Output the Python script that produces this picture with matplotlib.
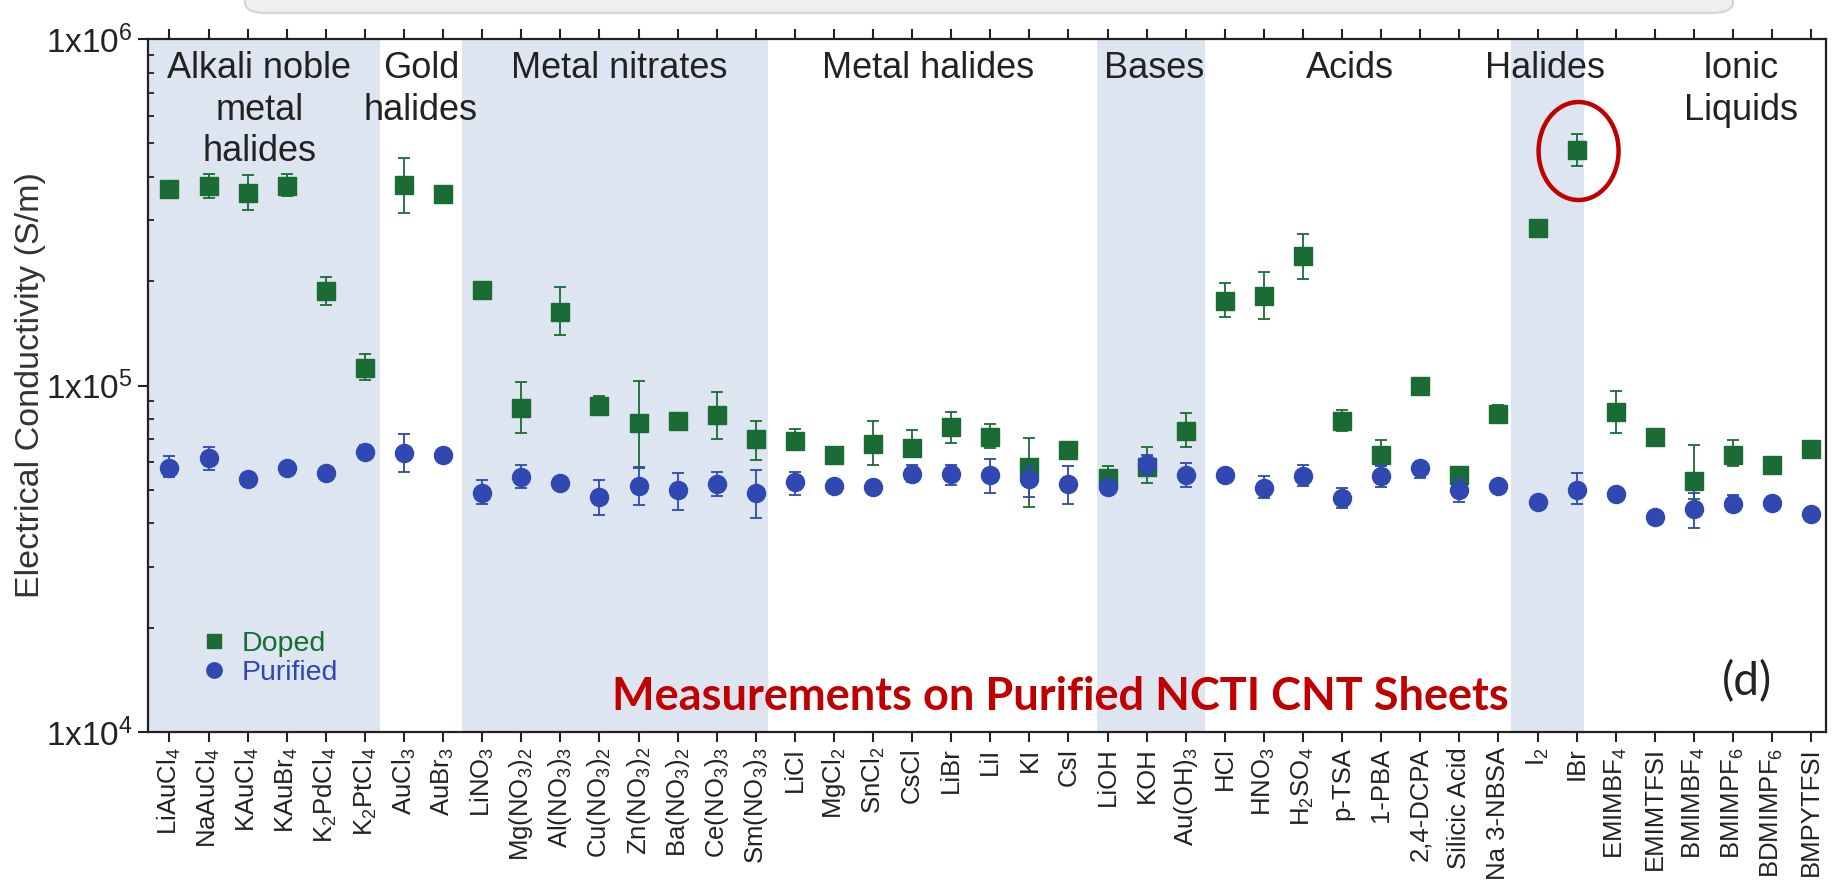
import matplotlib
matplotlib.use("Agg")
import matplotlib.pyplot as plt
import matplotlib.transforms as mtransforms
from matplotlib.patches import Ellipse, FancyBboxPatch
from matplotlib.ticker import LogLocator, NullFormatter, FixedLocator, FixedFormatter
import numpy as np

plt.rcParams['font.family'] = ['Liberation Sans', 'DejaVu Sans']
plt.rcParams['mathtext.fontset'] = 'custom'
plt.rcParams['mathtext.rm'] = 'Liberation Sans'
plt.rcParams['mathtext.it'] = 'Liberation Sans:italic'
plt.rcParams['mathtext.bf'] = 'Liberation Sans:bold'

# ---------------- data ----------------
compounds = ['LiAuCl$_4$', 'NaAuCl$_4$', 'KAuCl$_4$', 'KAuBr$_4$', 'K$_2$PdCl$_4$', 'K$_2$PtCl$_4$',
             'AuCl$_3$', 'AuBr$_3$', 'LiNO$_3$', 'Mg(NO$_3$)$_2$', 'Al(NO$_3$)$_3$', 'Cu(NO$_3$)$_2$',
             'Zn(NO$_3$)$_2$', 'Ba(NO$_3$)$_2$', 'Ce(NO$_3$)$_3$', 'Sm(NO$_3$)$_3$', 'LiCl', 'MgCl$_2$',
             'SnCl$_2$', 'CsCl', 'LiBr', 'LiI', 'KI', 'CsI', 'LiOH', 'KOH', 'Au(OH)$_3$', 'HCl',
             'HNO$_3$', 'H$_2$SO$_4$', 'p-TSA', '1-PBA', '2,4-DCPA', 'Silicic Acid', 'Na 3-NBSA',
             'I$_2$', 'IBr', 'EMIMBF$_4$', 'EMIMTFSI', 'BMIMBF$_4$', 'BMIMPF$_6$', 'BDMIMPF$_6$', 'BMPYTFSI']

# conductivity in S/m (x1000)
doped = [370, 377, 360, 377, 188, 112, 379, 357, 189, 86, 163, 87, 78, 79, 82, 70, 69, 63, 68, 66,
         76, 71, 58, 65, 54, 58, 74, 175, 181, 236, 79, 63, 100, 55, 83, 284, 478, 84, 71, 53, 63, 59, 65.5]
doped_hi = [380, 409, 405, 407, 206, 123, 453, 365, 195, 102.5, 192, 93, 103, 81, 96, 79, 75, 64, 79, 74.5,
            84, 77.3, 70.4, 66.5, 58.6, 66.5, 83.2, 198, 212, 273, 85, 69.6, 102, 57, 88, 290, 532, 96.5, 72.5,
            67.3, 69.6, 60, 67]
doped_lo = [360, 347, 320, 352, 171, 104, 314, 350, 182, 73, 140, 82, 58, 77, 70, 61, 65, 61, 59, 62,
            68.4, 66, 44.7, 63.5, 50, 52.2, 66.5, 158, 156, 203.5, 74, 58.4, 98, 52, 79, 278, 430, 72.8, 69.5,
            47, 58.4, 58, 64]

purified = [57.7, 61.6, 53.9, 57.9, 55.8, 64.4, 63.7, 63.2, 48.9, 54.6, 52.2, 47.6, 51.3, 49.9, 52, 49.1,
            52.5, 51.3, 50.8, 55.6, 55.6, 55.2, 53.9, 52, 51, 59.3, 55.2, 55.2, 50.7, 54.8, 47.5, 54.8, 57.7,
            49.9, 51.3, 46.2, 50.1, 48.6, 41.7, 44, 45.5, 45.9, 42.6]
purified_hi = [62.4, 66.6, 55, 59, 57, 67.5, 72.5, 64.5, 53.3, 59, 53.5, 53.3, 57.7, 55.8, 56.4, 57,
               56.4, 52.5, 52, 59, 59, 61.3, 58.4, 58.6, 52.3, 63, 59.6, 56.5, 54.8, 59, 50.5, 59, 60.3,
               53.9, 52.5, 47.2, 55.8, 49.7, 42.5, 48.9, 48.3, 46.8, 43.4]
purified_lo = [54.6, 57, 53, 56.5, 54.5, 61.5, 56.4, 62, 45.5, 50.5, 51, 42.3, 45.2, 43.8, 48, 41.4,
               48.3, 50, 49.6, 52.7, 51.6, 49.1, 47.8, 45.5, 49.8, 55, 50.8, 54, 47.2, 51.3, 44.3, 51, 54,
               46.2, 50, 45.2, 45.5, 47.5, 41, 38.7, 43.3, 45, 41.8]

groups = ['Alkali noble\nmetal\nhalides', 'Gold\nhalides', 'Metal nitrates', 'Metal halides',
          'Bases', 'Acids', 'Halides', 'Ionic\nLiquids']
group_centers = [2.3, 6.43, 11.5, 19.4, 25.2, 30.2, 35.2, 40.2]
shaded_spans = [(-0.6, 5.39), (7.48, 15.32), (23.74, 26.48), (34.32, 36.18)]

ytick_vals = [1e4, 1e5, 1e6]
ytick_labels = ['1x10$^4$', '1x10$^5$', '1x10$^6$']

# ---------------- figure ----------------
W, H = 1833, 880
fig = plt.figure(figsize=(W / 100, H / 100), dpi=100)
ax = fig.add_axes([148 / W, 1 - 732 / H, (1826 - 148) / W, (732 - 39) / H])

green = '#1b6b34'
blue = '#2f48b2'
shade = '#dce5f0'

x = np.arange(len(compounds))
d = np.array(doped) * 1e3
dh = np.array(doped_hi) * 1e3
dl = np.array(doped_lo) * 1e3
p = np.array(purified) * 1e3
ph = np.array(purified_hi) * 1e3
pl = np.array(purified_lo) * 1e3

for a, b in shaded_spans:
    ax.axvspan(a, b, color=shade, lw=0, zorder=0)

ax.errorbar(x, d, yerr=[d - dl, dh - d], fmt='none', ecolor=green, elinewidth=1.3,
            capsize=4, capthick=1.3, zorder=2)
hd, = ax.plot(x, d, 's', color=green, ms=12.5, ls='none', zorder=3, label='Doped')
ax.errorbar(x, p, yerr=[p - pl, ph - p], fmt='none', ecolor=blue, elinewidth=1.3,
            capsize=4, capthick=1.3, zorder=4)
hp, = ax.plot(x, p, 'o', color=blue, ms=13, ls='none', zorder=5, label='Purified')

ax.set_yscale('log')
ax.set_ylim(1e4, 1e6)
ax.set_xlim(-0.55, 42.38)

ax.yaxis.set_major_locator(FixedLocator(ytick_vals))
ax.yaxis.set_major_formatter(FixedFormatter(ytick_labels))
ax.yaxis.set_minor_locator(LogLocator(base=10, subs=np.arange(2, 10)))
ax.yaxis.set_minor_formatter(NullFormatter())

ax.set_xticks(x)
ax.set_xticklabels(compounds, rotation=90, fontsize=18.5)
ax.tick_params(axis='x', which='both', direction='out', length=7, width=1.5, top=True,
               labeltop=False, pad=4, colors='#222222')
ax.tick_params(axis='y', which='major', direction='out', length=7, width=1.5, labelsize=24,
               pad=4, colors='#222222')
ax.tick_params(axis='y', which='minor', direction='in', length=4, width=1.3, colors='#222222')

for s in ax.spines.values():
    s.set_linewidth(1.6)
    s.set_color('#222222')

ax.set_ylabel('Electrical Conductivity (S/m)', fontsize=24.5, color='#333333', va='center')
ax.yaxis.set_label_coords(-0.07, 0.5)

tr = ax.get_xaxis_transform()
for gname, gx in zip(groups, group_centers):
    ax.text(gx, 0.982, gname, transform=tr, ha='center', va='top', fontsize=26,
            linespacing=1.24, color='#222222', zorder=6)

leg = ax.legend(handles=[hd, hp], loc='lower left', bbox_to_anchor=(0.031, 0.066), frameon=False,
                fontsize=20.5, handletextpad=0.47, labelspacing=0.1, borderaxespad=0.0,
                borderpad=0.0, handlelength=1.0, markerscale=0.85, labelcolor=[green, blue])

ax.text(0.5435, 0.032, 'Measurements on Purified NCTI CNT Sheets', transform=ax.transAxes,
        ha='center', va='baseline', fontsize=32.5, fontweight='bold', color='#c00000',
        family=['Lato', 'DejaVu Sans'], zorder=6)
ax.text(0.953, 0.072, '(d)', transform=ax.transAxes, ha='center', va='center', fontsize=33,
        color='#222222', family=['Lato', 'DejaVu Sans'], zorder=6)

# red highlight ellipse around IBr doped point
etr = fig.dpi_scale_trans + mtransforms.ScaledTranslation(36.05, 4.75e5, ax.transData)
ax.add_patch(Ellipse((0, 0), 0.80, 0.98, transform=etr, fill=False, ec='#c00000', lw=3.2,
                     zorder=7, clip_on=False))

# light grey panel edge at the top of the screenshot
fig.patches.append(FancyBboxPatch((245 / W, 1 - 13 / H), (1733 - 245) / W, 0.06,
                                  boxstyle='round,pad=0,rounding_size=0.012',
                                  fc='#efefef', ec='#d4d4d4', lw=1.5, transform=fig.transFigure,
                                  figure=fig, clip_on=False))

fig.savefig('out.png', dpi=100)
